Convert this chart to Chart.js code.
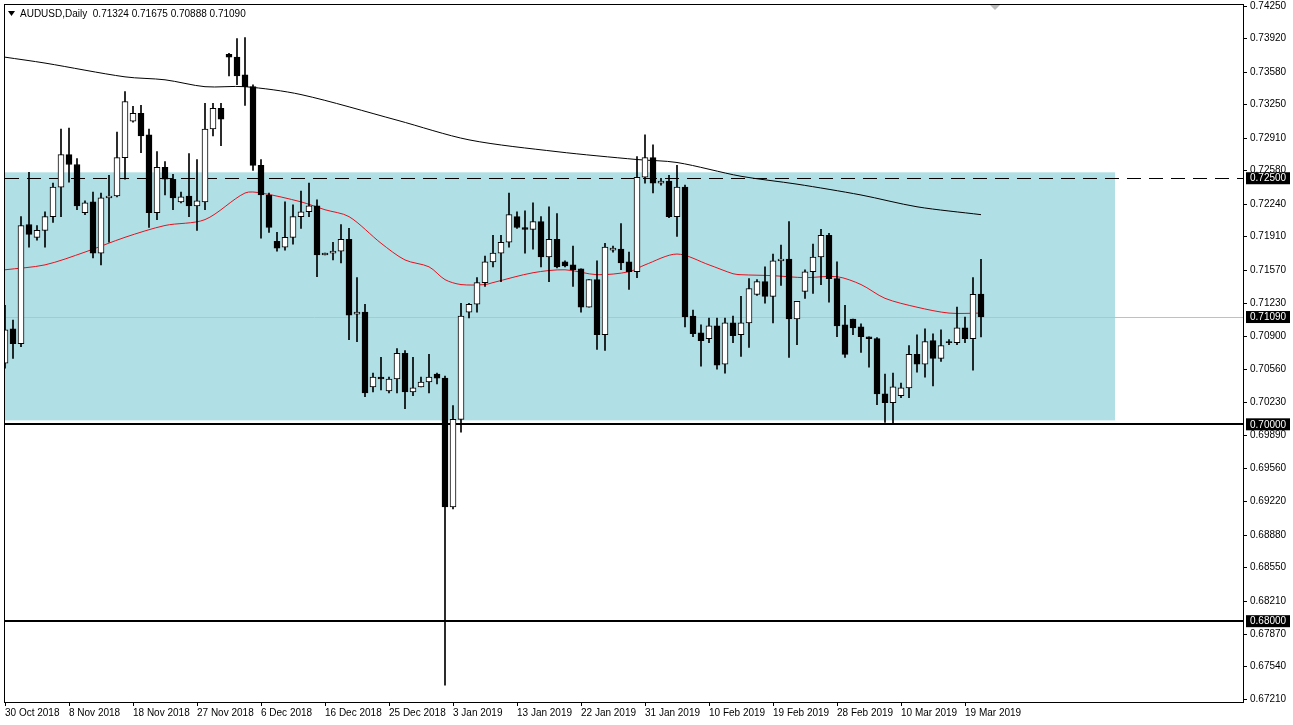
<!DOCTYPE html>
<html><head><meta charset="utf-8">
<script src="https://cdn.jsdelivr.net/npm/chart.js@4.4.0/dist/chart.umd.min.js"></script>
<style>html,body{margin:0;padding:0;background:#fff;}#wrap{width:1293px;height:725px;position:relative;}</style>
</head><body><div id="wrap"><canvas id="c" width="1293" height="725"></canvas></div>
<script>
const opens=[0.7062,0.7097,0.7082,0.7203,0.7190,0.7197,0.7211,0.7241,0.7274,0.7264,0.7215,0.7226,0.7174,0.7230,0.7232,0.7271,0.7308,0.7316,0.7294,0.7215,0.7261,0.7249,0.7226,0.7232,0.7222,0.7226,0.7300,0.7321,0.7376,0.7373,0.7355,0.7343,0.7263,0.7233,0.7186,0.7180,0.7190,0.7211,0.7216,0.7222,0.7172,0.7174,0.7176,0.7188,0.7112,0.7114,0.7038,0.7048,0.7034,0.7046,0.7072,0.7033,0.7038,0.7043,0.7051,0.7047,0.6916,0.7005,0.7114,0.7122,0.7144,0.7165,0.7174,0.7185,0.7211,0.7200,0.7198,0.7206,0.7170,0.7188,0.7165,0.7162,0.7158,0.7119,0.7147,0.7091,0.7177,0.7178,0.7165,0.7155,0.7251,0.7271,0.7245,0.7247,0.7211,0.7241,0.7110,0.7093,0.7087,0.7100,0.7061,0.7103,0.7091,0.7103,0.7132,0.7145,0.7130,0.7166,0.7168,0.7107,0.7135,0.7155,0.7170,0.7192,0.7148,0.7101,0.7107,0.7099,0.7089,0.7087,0.7031,0.7022,0.7029,0.7037,0.7071,0.7061,0.7085,0.7067,0.7084,0.7083,0.7098,0.7087,0.71324];
const highs=[0.7121,0.7106,0.7211,0.7256,0.7202,0.7216,0.7245,0.7300,0.7301,0.7270,0.7227,0.7236,0.7235,0.7253,0.7297,0.7338,0.7323,0.7324,0.7300,0.7277,0.7267,0.7254,0.7236,0.7275,0.7269,0.7326,0.7326,0.7326,0.7377,0.7392,0.7393,0.7345,0.7269,0.7235,0.7195,0.7226,0.7223,0.7237,0.7245,0.7228,0.7174,0.7185,0.7203,0.7199,0.7149,0.7122,0.7052,0.7068,0.7048,0.7077,0.7075,0.7068,0.7048,0.7071,0.7052,0.7049,0.7019,0.7123,0.7123,0.7149,0.7171,0.7192,0.7192,0.7235,0.7216,0.7217,0.7225,0.7211,0.7221,0.7214,0.7166,0.7181,0.7158,0.7147,0.7166,0.7184,0.7181,0.7204,0.7175,0.7272,0.7294,0.7284,0.7250,0.7253,0.7263,0.7243,0.7116,0.7101,0.7108,0.7108,0.7108,0.7110,0.7130,0.7148,0.7147,0.7160,0.7173,0.7182,0.7206,0.7125,0.7157,0.7183,0.7198,0.7194,0.7165,0.7121,0.7107,0.7102,0.7089,0.7088,0.7051,0.7052,0.7042,0.7080,0.7091,0.7097,0.7092,0.7096,0.7086,0.7119,0.7109,0.7149,0.71675];
const lows=[0.7057,0.7067,0.7079,0.7180,0.7187,0.7180,0.7205,0.7211,0.7246,0.7218,0.7213,0.7169,0.7162,0.7185,0.7231,0.7249,0.7307,0.7276,0.7200,0.7208,0.7233,0.7218,0.7225,0.7211,0.7197,0.7218,0.7293,0.7283,0.7354,0.7345,0.7324,0.7258,0.7189,0.7195,0.7176,0.7177,0.7183,0.7199,0.7211,0.7150,0.7172,0.7167,0.7164,0.7086,0.7084,0.7028,0.7033,0.7035,0.7032,0.7032,0.7016,0.7029,0.7038,0.7032,0.7041,0.6735,0.6914,0.6992,0.7108,0.7114,0.7140,0.7160,0.7145,0.7180,0.7199,0.7174,0.7178,0.7160,0.7145,0.7159,0.7160,0.7140,0.7114,0.7119,0.7076,0.7075,0.7175,0.7157,0.7137,0.7149,0.7245,0.7235,0.7243,0.7210,0.7191,0.7099,0.7089,0.7059,0.7083,0.7056,0.7052,0.7083,0.7069,0.7078,0.7131,0.7123,0.7103,0.7141,0.7068,0.7081,0.7128,0.7133,0.7142,0.7124,0.7089,0.7068,0.7091,0.7073,0.7058,0.7020,0.7002,0.7001,0.7027,0.7027,0.7053,0.7048,0.7039,0.7064,0.7081,0.7081,0.7083,0.7055,0.70888];
const closes=[0.7096,0.7082,0.7202,0.7193,0.7197,0.7211,0.7241,0.7274,0.7264,0.7222,0.7225,0.7174,0.7230,0.7232,0.7271,0.7328,0.7316,0.7293,0.7215,0.7261,0.7249,0.7230,0.7231,0.7222,0.7227,0.7300,0.7321,0.7310,0.7373,0.7354,0.7343,0.7263,0.7233,0.7200,0.7179,0.7190,0.7211,0.7216,0.7222,0.7172,0.7174,0.7176,0.7188,0.7111,0.7114,0.7032,0.7048,0.7046,0.7046,0.7072,0.7033,0.7037,0.7043,0.7048,0.7047,0.6916,0.7005,0.7110,0.7122,0.7144,0.7165,0.7174,0.7185,0.7213,0.7200,0.7198,0.7206,0.7170,0.7188,0.7160,0.7161,0.7157,0.7119,0.7147,0.7091,0.7180,0.7179,0.7164,0.7155,0.7251,0.7271,0.7245,0.7247,0.7211,0.7241,0.7109,0.7092,0.7085,0.7100,0.7060,0.7103,0.7090,0.7103,0.7138,0.7145,0.7130,0.7166,0.7168,0.7107,0.7125,0.7155,0.7170,0.7192,0.7148,0.7100,0.7071,0.7098,0.7089,0.7087,0.7031,0.7022,0.7038,0.7037,0.7071,0.7061,0.7084,0.7067,0.7080,0.7083,0.7098,0.7087,0.7132,0.71090];
// moving averages: [barIndex, value]
const maRed=[[0,0.7157],[5,0.7162],[10,0.7175],[15,0.7190],[20,0.7202],[25,0.7208],[30,0.7235],[32,0.7235],[37,0.7226],[40,0.7218],[43,0.7211],[47,0.7184],[50,0.7167],[53,0.7160],[55,0.7147],[57,0.7142],[60,0.7142],[61,0.7144],[66,0.7154],[70,0.7157],[74,0.7152],[78,0.7155],[80,0.7162],[84,0.7173],[88,0.7162],[91,0.7153],[92,0.7152],[96,0.7151],[100,0.7149],[104,0.7150],[107,0.7142],[110,0.7128],[114,0.7119],[118,0.7113],[122,0.7113]];
const maBlack=[[0,0.7373],[5,0.7367],[15,0.7353],[20,0.7350],[25,0.7343],[30,0.7343],[37,0.7335],[49,0.7309],[58,0.7289],[69,0.7277],[79,0.7269],[84,0.7266],[92,0.7252],[99,0.7244],[107,0.7233],[114,0.7221],[122,0.7213]];
const yTicks=[0.7425,0.7392,0.7358,0.7325,0.7291,0.7258,0.7224,0.7191,0.7157,0.7123,0.7090,0.7056,0.7023,0.6989,0.6956,0.6922,0.6888,0.6855,0.6821,0.6787,0.6754,0.6721];
const dateLabels=["30 Oct 2018","8 Nov 2018","18 Nov 2018","27 Nov 2018","6 Dec 2018","16 Dec 2018","25 Dec 2018","3 Jan 2019","13 Jan 2019","22 Jan 2019","31 Jan 2019","10 Feb 2019","19 Feb 2019","28 Feb 2019","10 Mar 2019","19 Mar 2019"];
const hLines=[{v:0.7250,dash:[14,8],w:1,c:'#000'},{v:0.7000,dash:[],w:2,c:'#000'},{v:0.6800,dash:[],w:2,c:'#000'},{v:0.7109,dash:[],w:1,c:'#c0c0c0'}];
const box={x0:-1,x1:138.75,y0:0.7004,y1:0.7256};

const bodies=opens.map((o,i)=>({x:i,y:[o,closes[i]]}));
const wicks=opens.map((o,i)=>({x:i,y:[lows[i],highs[i]]}));
const up=opens.map((o,i)=>closes[i]>=o);
const FONT='"Liberation Sans"';

const bg={id:'bg',beforeDatasetsDraw(ch){const {ctx,scales:{x,y}}=ch;ctx.save();ctx.fillStyle='#b0dfe5';
 const l=Math.max(ch.chartArea.left,x.getPixelForValue(box.x0));ctx.fillRect(l,y.getPixelForValue(box.y1),x.getPixelForValue(box.x1)-l,y.getPixelForValue(box.y0)-y.getPixelForValue(box.y1));
 hLines.forEach(h=>{const py=Math.round(y.getPixelForValue(h.v))+(h.w==1?0.5:0);ctx.strokeStyle=h.c;ctx.lineWidth=h.w;ctx.setLineDash(h.dash);ctx.beginPath();ctx.moveTo(ch.chartArea.left,py);ctx.lineTo(ch.chartArea.right,py);ctx.stroke();});
 ctx.restore();},
 afterDraw(ch){const {ctx,scales:{x,y},chartArea:a}=ch;ctx.save();ctx.setLineDash([]);ctx.strokeStyle='#000';ctx.lineWidth=1;
 ctx.strokeRect(a.left-0.5,a.top-0.5,a.right-a.left+1,a.bottom-a.top+1);
 ctx.font='10px '+FONT;ctx.textBaseline='middle';ctx.fillStyle='#000';
 yTicks.forEach(v=>{const py=Math.round(y.getPixelForValue(v))+0.5;ctx.beginPath();ctx.moveTo(a.right,py);ctx.lineTo(a.right+4,py);ctx.stroke();ctx.fillText(v.toFixed(5),a.right+7,py);});
 [0.7250,0.7109,0.7000,0.6800].forEach(v=>{const py=y.getPixelForValue(v);ctx.fillStyle='#000';ctx.fillRect(a.right+3,py-6,44,12);ctx.fillStyle='#fff';ctx.fillText(v.toFixed(5),a.right+7,py+0.5);});
 ctx.fillStyle='#000';ctx.textBaseline='alphabetic';ctx.font='10px '+FONT;
 dateLabels.forEach((l,i)=>{const px=x.getPixelForValue(i*8);ctx.fillText(l,px,716);ctx.beginPath();ctx.moveTo(Math.round(px)+0.5,a.bottom);ctx.lineTo(Math.round(px)+0.5,a.bottom+4);ctx.stroke();});
 ctx.fillText('AUDUSD,Daily  0.71324 0.71675 0.70888 0.71090',20,17);
 ctx.beginPath();ctx.moveTo(8,11);ctx.lineTo(15,11);ctx.lineTo(11.5,16);ctx.closePath();ctx.fill();
 ctx.fillStyle='#bbb';ctx.beginPath();ctx.moveTo(990,5);ctx.lineTo(1000,5);ctx.lineTo(995,10);ctx.closePath();ctx.fill();
 ctx.restore();}};

new Chart(document.getElementById('c'),{
 data:{datasets:[
  {type:'line',data:maBlack.map(p=>({x:p[0],y:p[1]})),borderColor:'#000',borderWidth:1,pointRadius:0,tension:0.3,order:3},
  {type:'line',data:maRed.map(p=>({x:p[0],y:p[1]})),borderColor:'#e8101c',borderWidth:1,pointRadius:0,tension:0.3,order:3},
  {type:'bar',data:wicks,backgroundColor:'#000',barThickness:1,grouped:false,order:2},
  {type:'bar',data:bodies,backgroundColor:up.map(u=>u?'#fff':'#000'),borderColor:'#000',borderWidth:1,borderSkipped:false,barThickness:6,grouped:false,order:1}
 ]},
 plugins:[bg],
 options:{responsive:false,animation:false,
  layout:{padding:{left:5,top:5,right:0,bottom:0}},
  plugins:{legend:{display:false},tooltip:{enabled:false}},
  scales:{
   x:{type:'linear',offset:false,min:0,max:154.75,grid:{display:false},border:{display:false},
     afterFit(s){s.height=23;},
     ticks:{display:false}},
   y:{position:'right',min:0.67179,max:0.7426,
     afterFit(s){s.width=50;},
     grid:{display:false,drawTicks:false},border:{display:false},
     ticks:{display:false}}
  }}
});
</script></body></html>
